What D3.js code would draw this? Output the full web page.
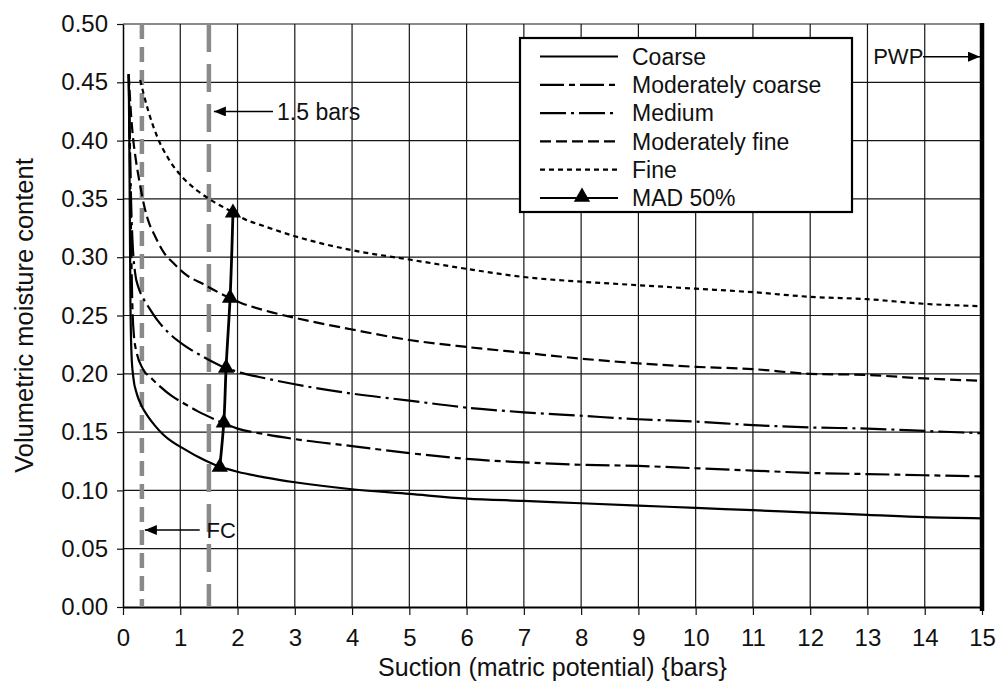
<!DOCTYPE html>
<html>
<head>
<meta charset="utf-8">
<script src="https://cdn.jsdelivr.net/npm/d3@7"></script>
<style>
  body { margin: 0; background: #fff; }
  text { font-family: "Liberation Sans", Arial, sans-serif; fill: #111; }
</style>
</head>
<body>
<svg id="chart" width="999" height="691"></svg>
<script>
// suction (bars) vs volumetric moisture content
const coarse = [
  [0.10, 0.457], [0.11, 0.40], [0.12, 0.33], [0.13, 0.26], [0.15, 0.215],
  [0.18, 0.197], [0.24, 0.183], [0.33, 0.172], [0.44, 0.163], [0.55, 0.156],
  [0.7, 0.148], [0.85, 0.142], [1.05, 0.136], [1.3, 0.129], [1.6, 0.122],
  [2, 0.116], [2.5, 0.111], [3, 0.107], [4, 0.101], [5, 0.097], [6, 0.093],
  [7, 0.091], [8, 0.089], [9, 0.087], [10, 0.085], [11, 0.083], [12, 0.081],
  [13, 0.079], [14, 0.077], [15, 0.076],
];
const moderatelyCoarse = [
  [0.10, 0.457], [0.12, 0.39], [0.14, 0.32], [0.16, 0.265], [0.19, 0.233],
  [0.24, 0.218], [0.35, 0.204], [0.5, 0.196], [0.65, 0.189], [0.85, 0.181],
  [1.05, 0.175], [1.3, 0.168], [1.6, 0.161], [2, 0.153], [2.5, 0.148],
  [3, 0.144], [4, 0.138], [5, 0.132], [6, 0.127], [7, 0.124], [8, 0.122],
  [9, 0.121], [10, 0.119], [11, 0.117], [12, 0.115], [13, 0.114], [14, 0.113], [15, 0.112],
];
const medium = [
  [0.10, 0.457], [0.12, 0.40], [0.14, 0.35], [0.17, 0.31], [0.21, 0.287],
  [0.27, 0.274], [0.35, 0.265], [0.45, 0.257], [0.6, 0.246], [0.8, 0.235],
  [1.05, 0.225], [1.35, 0.216], [1.7, 0.207], [2.05, 0.201], [2.5, 0.196],
  [3, 0.191], [4, 0.183], [5, 0.177], [6, 0.171], [7, 0.167], [8, 0.164],
  [9, 0.161], [10, 0.159], [11, 0.156], [12, 0.154], [13, 0.153], [14, 0.151], [15, 0.149],
];
const moderatelyFine = [
  [0.10, 0.457], [0.13, 0.43], [0.17, 0.405], [0.22, 0.385], [0.29, 0.364],
  [0.38, 0.342], [0.45, 0.33], [0.56, 0.318], [0.7, 0.305], [0.9, 0.294],
  [1.1, 0.285], [1.4, 0.277], [1.7, 0.269], [2.05, 0.261], [2.5, 0.254],
  [3, 0.248], [4, 0.238], [5, 0.229], [6, 0.223], [7, 0.218], [8, 0.213],
  [9, 0.209], [10, 0.206], [11, 0.204], [12, 0.2], [13, 0.199], [14, 0.196], [15, 0.194],
];
const fine = [
  [0.3, 0.452], [0.36, 0.44], [0.45, 0.424], [0.6, 0.403], [0.8, 0.384],
  [1.05, 0.368], [1.3, 0.357], [1.6, 0.347], [1.9, 0.339], [2.07, 0.334],
  [2.5, 0.326], [3, 0.318], [4, 0.306], [5, 0.298], [6, 0.29], [7, 0.283],
  [8, 0.279], [9, 0.276], [10, 0.273], [11, 0.27], [12, 0.266], [13, 0.264],
  [14, 0.26], [15, 0.258],
];
// management allowed depletion (50%) points, coarse -> fine
const mad50 = [[1.69, 0.12], [1.76, 0.158], [1.8, 0.205], [1.87, 0.265], [1.92, 0.338]];

const xTicks = d3.range(0, 16);
const yTicks = [0, 0.05, 0.1, 0.15, 0.2, 0.25, 0.3, 0.35, 0.4, 0.45, 0.5];
const fcSuction = 0.33;
const depletionSuction = 1.5;
const pwpSuction = 15;

const seriesNames = ["Coarse", "Moderately coarse", "Medium", "Moderately fine", "Fine"];
const seriesData = [coarse, moderatelyCoarse, medium, moderatelyFine, fine];
const dashes = [null, "24,5,6,5", "26,5,3,5", "11,5", "5,4"];

const svg = d3.select("#chart");
svg.append("rect").attr("width", 999).attr("height", 691).attr("fill", "#fff");

const x = d3.scaleLinear().domain([0, 15]).range([123, 982]);
const y = d3.scaleLinear().domain([0, 0.5]).range([607, 24]);

// arrow head
svg.append("defs").append("marker")
  .attr("id", "arrow")
  .attr("viewBox", "0 0 12 10")
  .attr("refX", 12).attr("refY", 5)
  .attr("markerUnits", "userSpaceOnUse")
  .attr("markerWidth", 13).attr("markerHeight", 10)
  .attr("orient", "auto")
  .append("path").attr("d", "M0,0L12,5L0,10Z").attr("fill", "#000");

// grid
const grid = svg.append("g").attr("stroke", "#161616").attr("stroke-width", 1.2);
grid.selectAll(".vx").data(xTicks.slice(1, -1)).enter().append("line")
  .attr("x1", d => x(d)).attr("x2", d => x(d))
  .attr("y1", y(0.5)).attr("y2", y(0));
grid.selectAll(".hy").data(yTicks.slice(1)).enter().append("line")
  .attr("x1", x(0)).attr("x2", x(15))
  .attr("y1", d => y(d)).attr("y2", d => y(d));

// axes
const xAxis = svg.append("g").attr("transform", `translate(0,${y(0)})`)
  .call(d3.axisBottom(x).tickValues(xTicks).tickSize(8).tickPadding(14).tickSizeOuter(0));
const yAxis = svg.append("g").attr("transform", `translate(${x(0)},0)`)
  .call(d3.axisLeft(y).tickValues(yTicks).tickFormat(d3.format(".2f")).tickSize(6).tickPadding(9).tickSizeOuter(0));
[xAxis, yAxis].forEach(a => {
  a.selectAll("text").style("font-size", "24px").attr("fill", "#111");
  a.selectAll("line").attr("stroke", "#111").attr("stroke-width", 1.2);
});
xAxis.select(".domain").attr("stroke", "#000").attr("stroke-width", 2);
yAxis.select(".domain").attr("stroke", "#000").attr("stroke-width", 1.5);

// FC and 1.5 bar reference lines
svg.selectAll(".ref").data([fcSuction, depletionSuction]).enter().append("line")
  .attr("x1", d => x(d)).attr("x2", d => x(d))
  .attr("y1", y(0.5)).attr("y2", y(0))
  .attr("stroke", "#8a8a8a").attr("stroke-width", 4.5)
  .attr("stroke-dasharray", (d, i) => i === 0 ? "15,8" : "28,12");

// PWP line
svg.append("line")
  .attr("x1", x(pwpSuction)).attr("x2", x(pwpSuction))
  .attr("y1", y(0.5) - 1).attr("y2", y(0) + 4)
  .attr("stroke", "#000").attr("stroke-width", 4.5);

// curves
const line = d3.line().x(d => x(d[0])).y(d => y(d[1])).curve(d3.curveMonotoneX);
svg.append("g").selectAll("path").data(seriesData).enter().append("path")
  .attr("d", line)
  .attr("fill", "none").attr("stroke", "#000").attr("stroke-width", 2.2)
  .attr("stroke-dasharray", (d, i) => dashes[i]);

// MAD 50%
const tri = d3.symbol(d3.symbolTriangle).size(115);
svg.append("path").datum(mad50)
  .attr("d", d3.line().x(d => x(d[0])).y(d => y(d[1])).curve(d3.curveMonotoneY))
  .attr("fill", "none").attr("stroke", "#000").attr("stroke-width", 2.8);
svg.selectAll(".mad").data(mad50).enter().append("path")
  .attr("d", tri)
  .attr("transform", d => `translate(${x(d[0])},${y(d[1])})`)
  .attr("fill", "#000");

// annotations
svg.append("line")
  .attr("x1", x(1.34)).attr("x2", x(fcSuction) + 3)
  .attr("y1", y(0.066)).attr("y2", y(0.066))
  .attr("stroke", "#000").attr("stroke-width", 1.5).attr("marker-end", "url(#arrow)");
svg.append("text").attr("x", x(1.46)).attr("y", y(0.066)).attr("dy", "0.35em")
  .style("font-size", "22px").text("FC");

svg.append("line")
  .attr("x1", x(2.62)).attr("x2", x(depletionSuction) + 5)
  .attr("y1", y(0.425)).attr("y2", y(0.425))
  .attr("stroke", "#000").attr("stroke-width", 1.5).attr("marker-end", "url(#arrow)");
svg.append("text").attr("x", x(2.69)).attr("y", y(0.425)).attr("dy", "0.35em")
  .style("font-size", "23px").text("1.5 bars");

svg.append("text").attr("x", x(13.1)).attr("y", y(0.472)).attr("dy", "0.35em")
  .style("font-size", "22px").text("PWP");
svg.append("line")
  .attr("x1", x(13.97)).attr("x2", x(pwpSuction) - 2)
  .attr("y1", y(0.472)).attr("y2", y(0.472))
  .attr("stroke", "#000").attr("stroke-width", 1.5).attr("marker-end", "url(#arrow)");

// legend
const legend = svg.append("g").attr("transform", "translate(520,38)");
legend.append("rect").attr("width", 332).attr("height", 174)
  .attr("fill", "#fff").attr("stroke", "#000").attr("stroke-width", 2.2);
const legendNames = seriesNames.concat(["MAD 50%"]);
const rows = legend.selectAll(".row").data(legendNames).enter().append("g")
  .attr("transform", (d, i) => `translate(0,${18.5 + i * 28.3})`);
rows.append("line")
  .attr("x1", 20).attr("x2", 98).attr("y1", 0).attr("y2", 0)
  .attr("stroke", "#000").attr("stroke-width", 2.2)
  .attr("stroke-dasharray", (d, i) => i < dashes.length ? dashes[i] : null);
rows.filter(d => d === "MAD 50%").append("path")
  .attr("d", tri).attr("transform", "translate(62,-1)").attr("fill", "#000");
rows.append("text").attr("x", 112).attr("dy", "0.36em")
  .style("font-size", "23px").text(d => d);

// axis titles
svg.append("text")
  .attr("transform", `translate(24,${(y(0) + y(0.5)) / 2}) rotate(-90)`)
  .attr("text-anchor", "middle").attr("dy", "0.35em")
  .style("font-size", "25.5px").text("Volumetric moisture content");
svg.append("text")
  .attr("x", (x(0) + x(15)) / 2).attr("y", 676)
  .attr("text-anchor", "middle")
  .style("font-size", "25px").text("Suction (matric potential) {bars}");
</script>
</body>
</html>
